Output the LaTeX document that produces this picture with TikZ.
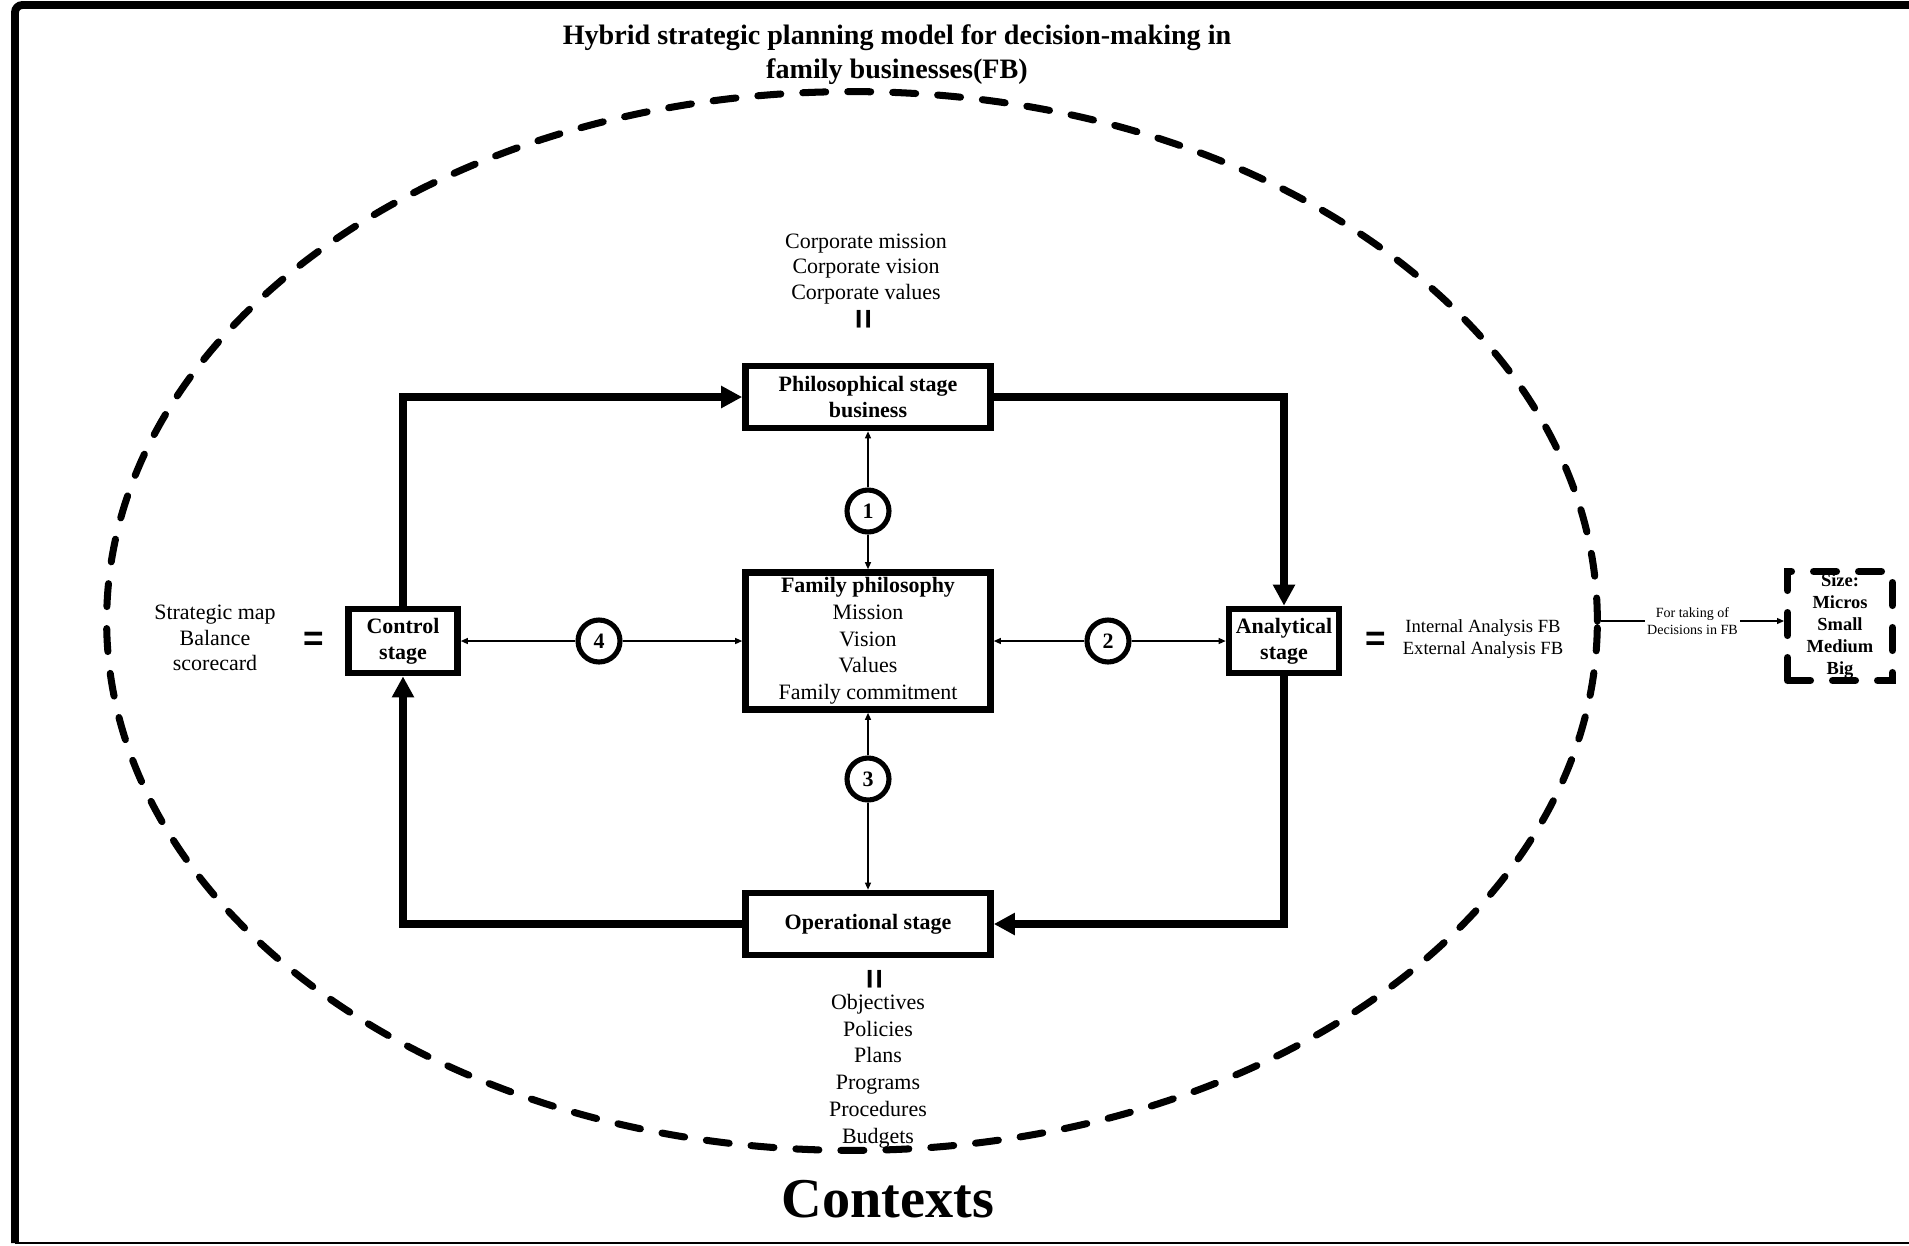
\documentclass[tikz,border=0pt]{standalone}
\usepackage{fontspec}
\setmainfont{Liberation Serif}
\setsansfont{Liberation Sans}
\usetikzlibrary{arrows.meta,shapes.geometric}

\begin{document}
\begin{tikzpicture}[x=0.02cm, y=-0.02cm,
        every node/.style={font=\fontsize{12.5}{14.6}\selectfont, align=center},
        stagebox/.style={draw, line width=3.8pt, minimum width=4.9cm, minimum height=1.24cm, inner sep=2pt, font=\fontsize{12.5}{14.6}\selectfont\bfseries},
        sidebox/.style={stagebox, minimum width=2.18cm, minimum height=1.28cm},
        num/.style={circle, draw, line width=2.9pt, fill=white, minimum size=0.84cm, inner sep=0pt, font=\fontsize{12.5}{14}\selectfont\bfseries},
        flow/.style={line width=4.1pt, -{Triangle[length=0.42cm,width=0.42cm]}},
        link/.style={line width=0.7pt, -{Triangle[length=0.14cm,width=0.12cm]}},
        equal/.style={font=\fontsize{20}{20}\selectfont\sffamily\bfseries},
        dashy/.style={draw, line width=4pt, line cap=round, dash pattern=on 0.46cm off 0.44cm}]

    \useasboundingbox (0,0) rectangle (1909,1245);
    \draw[line width=4.5pt, rounded corners=0.15cm] (1909,5) -- (15,5) -- (15,1243);
    \draw[line width=0.8pt] (15,1243) -- (1909,1243);

    \node[ellipse, dashy, minimum width=29.82cm, minimum height=21.18cm, inner sep=0pt] (ctx) at (852,621) {};
    \node[font=\fontsize{16}{19.5}\selectfont\bfseries] (title) at (897,55)
        {Hybrid strategic planning model for decision-making in\\family businesses(FB)};

    \node[stagebox] (phil) at (868,397) {Philosophical stage\\business};
    \node[stagebox, minimum height=2.74cm, font=\fontsize{12.5}{15.2}\selectfont] (fam) at (868,641)
        {\textbf{Family philosophy}\\Mission\\Vision\\Values\\Family commitment};
    \node[stagebox] (oper) at (868,924) {Operational stage};
    \node[sidebox] (ctrl) at (403,641) {Control\\stage};
    \node[sidebox, minimum width=2.2cm] (anal) at (1284,641) {Analytical\\stage};
    \node[dashy, minimum width=2.1cm, minimum height=2.18cm, inner sep=0pt, font=\fontsize{10.5}{12.5}\selectfont\bfseries] (size) at (1840,626)
        {Size:\\Micros\\Small\\Medium\\Big};

    \draw[flow] (ctrl.north) |- (phil.west);
    \draw[flow] (phil.east) -| (anal.north);
    \draw[flow] (anal.south) |- (oper.east);
    \draw[flow] (oper.west) -| (ctrl.south);

    \node[num] (c1) at (868,511) {1};
    \node[num] (c2) at (1108,641) {2};
    \node[num] (c3) at (868,779) {3};
    \node[num] (c4) at (599,641) {4};
    \draw[link] (c1) -- (phil);
    \draw[link] (c1) -- (fam);
    \draw[link] (c2) -- (fam);
    \draw[link] (c2) -- (anal);
    \draw[link] (c3) -- (fam);
    \draw[link] (c3) -- (oper);
    \draw[link] (c4) -- (ctrl);
    \draw[link] (c4) -- (fam);

    \node (corp) at (866,269) {Corporate mission\\Corporate vision\\Corporate values};
    \node[equal, rotate=90] (eqtop) at (866,319) {=};
    \node[equal, rotate=90] (eqbot) at (877,979) {=};
    \node[font=\fontsize{12.5}{15.2}\selectfont] (items) at (878,1071)
        {Objectives\\Policies\\Plans\\Programs\\Procedures\\Budgets};
    \node (strat) at (215,638) {Strategic map\\Balance\\scorecard};
    \node[equal] (eqleft) at (314,641) {=};
    \node[equal] (eqright) at (1376,641) {=};
    \node[font=\fontsize{10.6}{13}\selectfont] (anlist) at (1483,639) {Internal Analysis FB\\External Analysis FB};
    \node[font=\fontsize{32}{36}\selectfont\bfseries] (contexts) at (888,1199) {Contexts};

    \draw[link] (ctx.east) -- node[fill=white, inner sep=1pt, font=\fontsize{8}{9.6}\selectfont] {For taking of\\Decisions in FB} (ctx.east -| size.west);
\end{tikzpicture}
\end{document}
